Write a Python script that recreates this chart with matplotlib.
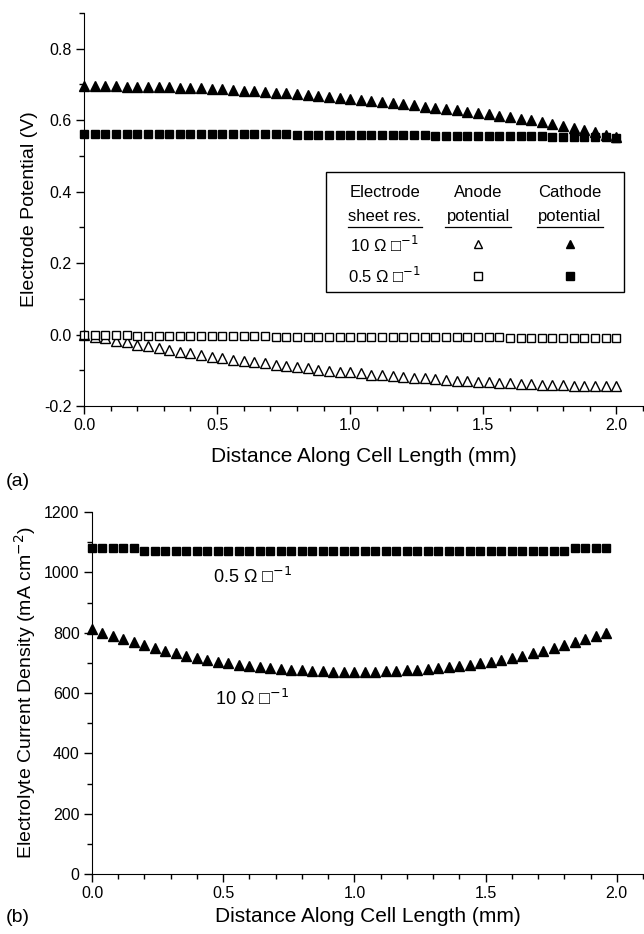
import matplotlib
matplotlib.use('Agg')
import matplotlib.pyplot as plt
from matplotlib.patches import Rectangle
from matplotlib.ticker import MultipleLocator

plt.rcParams['font.family'] = ['Liberation Sans', 'DejaVu Sans']

# (a) electrode potential along the cell, 0.04 mm steps
dist_a = [0.00, 0.04, 0.08, 0.12, 0.16, 0.20, 0.24, 0.28, 0.32, 0.36,
          0.40, 0.44, 0.48, 0.52, 0.56, 0.60, 0.64, 0.68, 0.72, 0.76,
          0.80, 0.84, 0.88, 0.92, 0.96, 1.00, 1.04, 1.08, 1.12, 1.16,
          1.20, 1.24, 1.28, 1.32, 1.36, 1.40, 1.44, 1.48, 1.52, 1.56,
          1.60, 1.64, 1.68, 1.72, 1.76, 1.80, 1.84, 1.88, 1.92, 1.96, 2.00]

cathode_10 = [0.695, 0.695, 0.695, 0.695, 0.694, 0.694, 0.693, 0.693, 0.692, 0.691,
              0.690, 0.689, 0.688, 0.686, 0.685, 0.683, 0.681, 0.679, 0.677, 0.675,
              0.673, 0.671, 0.668, 0.666, 0.663, 0.660, 0.657, 0.654, 0.651, 0.648,
              0.645, 0.642, 0.638, 0.635, 0.631, 0.628, 0.624, 0.620, 0.616, 0.612,
              0.608, 0.604, 0.600, 0.595, 0.590, 0.585, 0.579, 0.573, 0.566, 0.559, 0.552]

cathode_05 = [0.561, 0.561, 0.561, 0.561, 0.561, 0.561, 0.561, 0.561, 0.561, 0.561,
              0.560, 0.560, 0.560, 0.560, 0.560, 0.560, 0.560, 0.560, 0.560, 0.560,
              0.559, 0.559, 0.559, 0.559, 0.559, 0.559, 0.559, 0.559, 0.558, 0.558,
              0.558, 0.558, 0.558, 0.557, 0.557, 0.557, 0.557, 0.556, 0.556, 0.556,
              0.556, 0.555, 0.555, 0.555, 0.554, 0.554, 0.553, 0.553, 0.552, 0.552, 0.551]

anode_10 = [0.000, -0.006, -0.011, -0.017, -0.022, -0.028, -0.033, -0.038, -0.043, -0.048,
            -0.053, -0.057, -0.062, -0.066, -0.070, -0.074, -0.078, -0.081, -0.085, -0.088,
            -0.092, -0.095, -0.098, -0.101, -0.104, -0.106, -0.109, -0.112, -0.114, -0.117,
            -0.119, -0.121, -0.123, -0.125, -0.127, -0.129, -0.131, -0.132, -0.134, -0.135,
            -0.137, -0.138, -0.139, -0.140, -0.141, -0.142, -0.143, -0.144, -0.144, -0.145, -0.145]

anode_05 = [-0.001, -0.001, -0.002, -0.002, -0.002, -0.003, -0.003, -0.003, -0.003, -0.004,
            -0.004, -0.004, -0.004, -0.005, -0.005, -0.005, -0.005, -0.005, -0.006, -0.006,
            -0.006, -0.006, -0.006, -0.006, -0.007, -0.007, -0.007, -0.007, -0.007, -0.007,
            -0.007, -0.008, -0.008, -0.008, -0.008, -0.008, -0.008, -0.008, -0.008, -0.008,
            -0.009, -0.009, -0.009, -0.009, -0.009, -0.009, -0.009, -0.009, -0.009, -0.009, -0.009]

# (b) electrolyte current density, 0.04 mm steps to 1.96 mm
dist_b = dist_a[:-1]

current_05 = [1080, 1080, 1080, 1080, 1080, 1070, 1070, 1070, 1070, 1070,
              1070, 1070, 1070, 1070, 1070, 1070, 1070, 1070, 1070, 1070,
              1070, 1070, 1070, 1070, 1070, 1070, 1070, 1070, 1070, 1070,
              1070, 1070, 1070, 1070, 1070, 1070, 1070, 1070, 1070, 1070,
              1070, 1070, 1070, 1070, 1070, 1070, 1080, 1080, 1080, 1080]

current_10 = [812, 800, 790, 778, 768, 758, 748, 740, 732, 724,
              716, 709, 703, 698, 693, 689, 685, 682, 679, 677,
              675, 673, 672, 671, 670, 670, 670, 671, 672, 673,
              675, 677, 679, 682, 685, 689, 693, 698, 703, 709,
              716, 724, 732, 740, 749, 758, 768, 778, 788, 800]

W, H = 644, 934
fig = plt.figure(figsize=(W / 100, H / 100), dpi=100)

ax1 = fig.add_axes([84 / W, 1 - 406 / H, 559 / W, 393 / H])
ax2 = fig.add_axes([92 / W, 1 - 874 / H, 551 / W, 362 / H])

ms_tri = 7
ms_sq = 6
ax1.plot(dist_a, cathode_10, ls='none', marker='^', ms=ms_tri, color='black', clip_on=False)
ax1.plot(dist_a, cathode_05, ls='none', marker='s', ms=ms_sq, color='black', clip_on=False)
ax1.plot(dist_a, anode_10, ls='none', marker='^', ms=ms_tri, mfc='white', mec='black', mew=1, clip_on=False)
ax1.plot(dist_a, anode_05, ls='none', marker='s', ms=ms_sq, mfc='white', mec='black', mew=1, clip_on=False)

ax2.plot(dist_b, current_05, ls='none', marker='s', ms=ms_sq, color='black', clip_on=False)
ax2.plot(dist_b, current_10, ls='none', marker='^', ms=ms_tri, color='black', clip_on=False)

for ax in (ax1, ax2):
    ax.spines['top'].set_visible(False)
    ax.spines['right'].set_visible(False)
    ax.set_xlim(0, 2.1)
    ax.xaxis.set_major_locator(MultipleLocator(0.5))
    ax.xaxis.set_minor_locator(MultipleLocator(0.1))
    ax.tick_params(which='major', direction='out', length=6, width=1, labelsize=11.5, pad=3)
    ax.tick_params(which='minor', direction='out', length=3.5, width=1)

ax1.set_xlabel('Distance Along Cell Length (mm)', fontsize=15, labelpad=10)
ax2.set_xlabel('Distance Along Cell Length (mm)', fontsize=15, labelpad=4)

ax1.set_ylim(-0.2, 0.9)
ax1.yaxis.set_major_locator(MultipleLocator(0.2))
ax1.yaxis.set_minor_locator(MultipleLocator(0.1))
ax1.set_yticks([-0.2, 0.0, 0.2, 0.4, 0.6, 0.8])
ax1.set_yticklabels(['-0.2', '0.0', '0.2', '0.4', '0.6', '0.8'])
ax1.set_ylabel('Electrode Potential (V)', fontsize=14)

ax2.set_ylim(0, 1200)
ax2.yaxis.set_major_locator(MultipleLocator(200))
ax2.yaxis.set_minor_locator(MultipleLocator(100))
ax2.set_ylabel('Electrolyte Current Density (mA cm$^{-2}$)', fontsize=14)

# legend table drawn by hand
ta = ax1.transAxes
ax1.add_patch(Rectangle((0.433, 0.289), 0.533, 0.307, transform=ta,
                        fill=False, lw=1, ec='black', clip_on=False))
hdr = [(0.538, 'Electrode', 'sheet res.'),
       (0.705, 'Anode', 'potential'),
       (0.869, 'Cathode', 'potential')]
for cx, l1, l2 in hdr:
    ax1.text(cx, 0.543, l1, transform=ta, ha='center', va='center', fontsize=12)
    ax1.text(cx, 0.482, l2, transform=ta, ha='center', va='center', fontsize=12)
ul_half = [0.066, 0.059, 0.059]
for (cx, _, _), hw in zip(hdr, ul_half):
    ax1.plot([cx - hw, cx + hw], [0.455, 0.455], transform=ta, color='black', lw=0.9)

rows = [(0.411, '10 Ω □$^{-1}$', '^'), (0.330, '0.5 Ω □$^{-1}$', 's')]
for ry, lab, mk in rows:
    ax1.text(0.538, ry, lab, transform=ta, ha='center', va='center', fontsize=12)
    ax1.plot([0.705], [ry], transform=ta, ls='none', marker=mk, ms=6,
             mfc='white', mec='black', mew=1)
    ax1.plot([0.869], [ry], transform=ta, ls='none', marker=mk, ms=6, color='black')

ax2.text(0.46, 985, '0.5 Ω □$^{-1}$', fontsize=13, ha='left', va='center')
ax2.text(0.47, 580, '10 Ω □$^{-1}$', fontsize=13, ha='left', va='center')

fig.text(6 / W, 1 - 482 / H, '(a)', fontsize=14, ha='left', va='center')
fig.text(6 / W, 1 - 917 / H, '(b)', fontsize=14, ha='left', va='center')

fig.savefig('out.png', dpi=100)
